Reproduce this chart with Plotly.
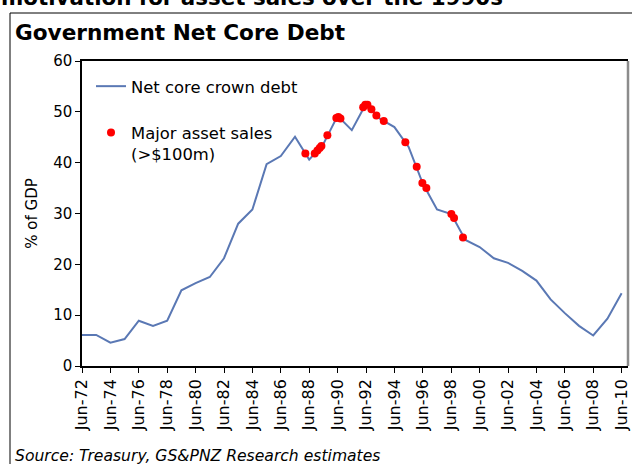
import plotly.graph_objects as go

# Net core Crown debt, % of GDP, June years
years = list(range(1972, 2011))
net_core_debt = [
    6.1, 6.1, 4.6, 5.3, 8.9, 7.9, 8.9, 14.9, 16.3, 17.5,
    21.2, 28.0, 30.8, 39.7, 41.3, 45.1, 40.6, 43.7, 49.2, 46.4,
    51.6, 48.6, 47.0, 43.1, 35.9, 30.8, 29.9, 24.8, 23.4, 21.2,
    20.3, 18.7, 16.8, 13.1, 10.4, 7.9, 6.0, 9.3, 14.3,
]

# Major asset sales (>$100m): sale date (fractional year) and debt level at the time
sale_dates = [
    1987.73, 1988.39, 1988.58, 1988.74, 1988.86, 1989.28, 1989.91, 1990.05,
    1990.20, 1991.80, 1991.95, 1992.10, 1992.38, 1992.73, 1993.25, 1994.77,
    1995.57, 1995.97, 1996.25, 1998.01, 1998.20, 1998.83,
]
sale_debt = [
    41.8, 41.8, 42.4, 42.9, 43.3, 45.4, 48.8, 49.0,
    48.7, 50.9, 51.4, 51.4, 50.5, 49.3, 48.2, 44.0,
    39.2, 36.0, 35.0, 29.9, 29.1, 25.3,
]

tick_years = list(range(1972, 2011, 2))
tick_labels = ["Jun-%02d" % (y % 100) for y in tick_years]

W, H = 632, 464
FONT = "DejaVu Sans, Verdana, sans-serif"


def px_x(x):
    return x / W


def px_y(y):
    return (H - y) / H


fig = go.Figure()
fig.add_trace(go.Scatter(
    x=years, y=net_core_debt, mode="lines",
    name="Net core crown debt", legendgroup="a",
    line=dict(color="#5a78b4", width=2),
))
fig.add_trace(go.Scatter(
    x=sale_dates, y=sale_debt, mode="markers",
    name="Major asset sales<br>(>$100m)", legendgroup="b",
    marker=dict(color="#ff0000", size=8, line=dict(width=0)),
))

fig.update_layout(
    width=W, height=H,
    margin=dict(l=0, r=0, t=0, b=0, autoexpand=False),
    paper_bgcolor="white", plot_bgcolor="white",
    font=dict(family=FONT, size=15, color="black"),
    showlegend=True,
    legend=dict(
        x=px_x(91), y=px_y(69), xanchor="left", yanchor="top",
        bgcolor="rgba(0,0,0,0)", font=dict(size=16.4),
        tracegroupgap=22, traceorder="grouped", valign="top",
        itemwidth=30,
    ),
    xaxis=dict(
        domain=[px_x(82), px_x(628)],
        range=[1972, 2010.45], automargin=False,
        tickmode="array", tickvals=tick_years, ticktext=tick_labels,
        tickangle=-90, ticks="outside", ticklen=5, tickcolor="black",
        showline=True, linecolor="black", linewidth=1.5, mirror=True,
        showgrid=False, zeroline=False,
        tickfont=dict(size=16),
    ),
    yaxis=dict(
        domain=[px_y(366), px_y(61)],
        range=[0, 60], dtick=10, automargin=False,
        ticks="outside", ticklen=5, tickcolor="black",
        showline=True, linecolor="black", linewidth=1.5,
        showgrid=False, zeroline=False,
        title=dict(text="% of GDP", font=dict(size=15), standoff=12),
        tickfont=dict(size=15),
    ),
    shapes=[
        # right edge of the plot area
        dict(type="line", xref="x domain", yref="y domain",
             x0=1, x1=1, y0=0, y1=1, line=dict(color="#8c8c8c", width=2.5)),
        # outer panel frame (left and top edges)
        dict(type="line", xref="paper", yref="paper",
             x0=px_x(10), x1=px_x(10), y0=-0.05, y1=px_y(13),
             line=dict(color="black", width=1)),
        dict(type="line", xref="paper", yref="paper",
             x0=px_x(10), x1=1.05, y0=px_y(13), y1=px_y(13),
             line=dict(color="black", width=1)),
    ],
    annotations=[
        dict(text="<b>motivation for asset sales over the 1990s</b>",
             xref="paper", yref="paper", x=px_x(-1), y=px_y(-3),
             xanchor="left", yanchor="middle", showarrow=False,
             font=dict(size=21.4, family=FONT)),
        dict(text="<b>Government Net Core Debt</b>",
             xref="paper", yref="paper", x=px_x(13), y=px_y(32),
             xanchor="left", yanchor="middle", showarrow=False,
             font=dict(size=21.6, family=FONT)),
        dict(text="<i>Source: Treasury, GS&PNZ Research estimates</i>",
             xref="paper", yref="paper", x=px_x(13), y=px_y(456),
             xanchor="left", yanchor="middle", showarrow=False,
             font=dict(size=15.6, family=FONT)),
    ],
)

# page body without the default margin so the figure sits at the window origin
fig.write_html(
    "out.html",
    post_script="document.body.style.margin='0';document.body.style.overflow='hidden';",
)
